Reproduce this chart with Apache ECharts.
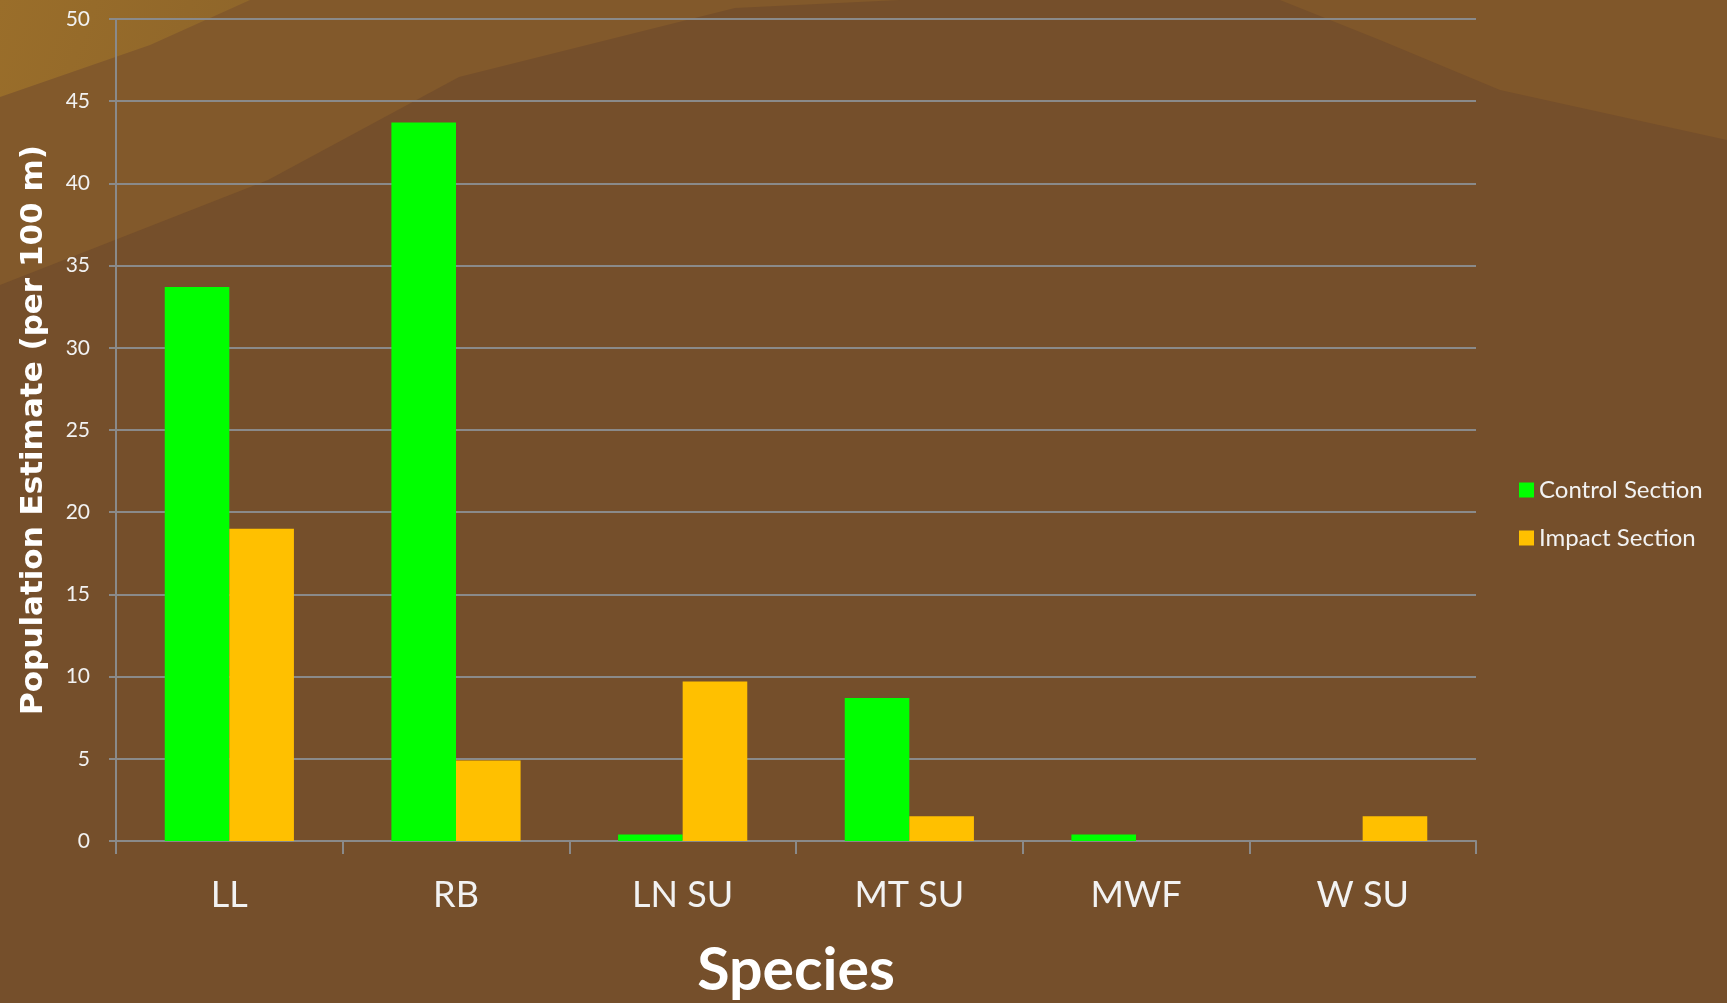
<!DOCTYPE html>
<html>
<head>
<meta charset="utf-8">
<script src="https://cdn.jsdelivr.net/npm/echarts@6/dist/echarts.min.js"></script>
<style>
html,body{margin:0;padding:0;background:#754F2B;}
#chart{width:1727px;height:1003px;}
</style>
</head>
<body>
<div id="chart"></div>
<script>
const categories = ['LL', 'RB', 'LN SU', 'MT SU', 'MWF', 'W SU'];
const controlSection = [33.7, 43.7, 0.4, 8.7, 0.4, 0];
const impactSection = [19.0, 4.9, 9.7, 1.5, 0, 1.5];
const seriesNames = ['Control Section', 'Impact Section'];

const chart = echarts.init(document.getElementById('chart'));
const txt = '#F2F2F2';
const font = 'Lato';
chart.setOption({
  backgroundColor: '#754F2B',
  animation: false,
  graphic: [
    { type: 'polygon', silent: true, z: -10,
      shape: { points: [[0,0],[900,0],[735,8],[459,77],[268,180],[0,285]] },
      style: { fill: '#82592B' } },
    { type: 'polygon', silent: true, z: -9,
      shape: { points: [[0,0],[250,0],[150,45],[0,97]] },
      style: { fill: new echarts.graphic.LinearGradient(0, 0, 1, 1, [
        { offset: 0, color: '#9A6E2A' }, { offset: 1, color: '#8E652A' }]) } },
    { type: 'polygon', silent: true, z: -9,
      shape: { points: [[1280,0],[1727,0],[1727,140],[1500,90],[1380,40]] },
      style: { fill: '#80572A' } }
  ],
  grid: { left: 116, right: 251, top: 19, bottom: 162, outerBoundsMode: 'none', containLabel: false },
  legend: {
    orient: 'vertical',
    left: 1514,
    top: 473,
    itemWidth: 15,
    itemHeight: 15,
    itemGap: 24,
    icon: 'rect',
    textStyle: { color: txt, fontSize: 24, lineHeight: 24, fontFamily: font },
    data: seriesNames
  },
  xAxis: {
    type: 'category',
    data: categories,
    name: 'Species',
    nameLocation: 'middle',
    nameGap: 100,
    nameTextStyle: { color: '#FFFFFF', fontSize: 59, fontWeight: 'bold', fontFamily: font },
    axisLine: { lineStyle: { color: '#8A8A8A', width: 2 } },
    axisTick: { show: true, length: 13, interval: 0, lineStyle: { color: '#8A8A8A', width: 2 } },
    axisLabel: { color: txt, fontSize: 36, fontFamily: font, margin: 36 }
  },
  yAxis: {
    type: 'value',
    min: 0, max: 50, interval: 5,
    name: 'Population Estimate (per 100 m)',
    nameLocation: 'middle',
    nameGap: 67,
    nameTextStyle: { color: '#FFFFFF', fontSize: 31, fontWeight: 'bold', fontFamily: 'DejaVu Sans' },
    axisLine: { show: true, lineStyle: { color: '#8A8A8A', width: 2 } },
    axisTick: { show: true, length: 7, lineStyle: { color: '#8A8A8A', width: 2 } },
    axisLabel: { color: txt, fontSize: 21, fontFamily: font, margin: 26 },
    splitLine: { show: true, lineStyle: { color: '#8A8A8A', width: 2 } }
  },
  series: [
    { name: seriesNames[0], type: 'bar', data: controlSection, barGap: '0%', barCategoryGap: '43%',
      itemStyle: { color: '#00FF00' } },
    { name: seriesNames[1], type: 'bar', data: impactSection, barGap: '0%', barCategoryGap: '43%',
      itemStyle: { color: '#FFC000' } }
  ]
});
</script>
</body>
</html>
